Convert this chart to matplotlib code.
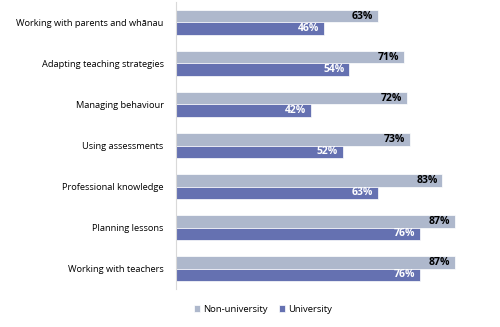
import matplotlib
matplotlib.use("Agg")
import matplotlib.pyplot as plt
import numpy as np

categories = ["Working with parents and whānau", "Adapting teaching strategies",
              "Managing behaviour", "Using assessments", "Professional knowledge",
              "Planning lessons", "Working with teachers"]
non_university = [63, 71, 72, 73, 83, 87, 87]
university = [46, 54, 42, 52, 63, 76, 76]

plt.rcParams['font.family'] = ['Open Sans', 'DejaVu Sans']
fig = plt.figure(figsize=(5, 3.27), dpi=100)
ax = fig.add_axes([0.352, 0.116, 0.642, 0.878])

y = np.arange(len(categories))
h = 0.31
c_non = "#AEB8CC"
c_uni = "#6571B1"
b1 = ax.barh(y - h/2, non_university, height=h, color=c_non, edgecolor="white", linewidth=0.5, label="Non-university")
b2 = ax.barh(y + h/2, university, height=h, color=c_uni, edgecolor="white", linewidth=0.5, label="University")

for yy, v in zip(y, non_university):
    ax.text(v - 1.5, yy - h/2, f"{v}%", ha="right", va="center", fontsize=7.5, fontweight="bold", color="black")
for yy, v in zip(y, university):
    ax.text(v - 1.5, yy + h/2, f"{v}%", ha="right", va="center", fontsize=7.5, fontweight="bold", color="white")

ax.set_xlim(0, 100)
ax.set_ylim(6.5, -0.5)
ax.set_yticks(y)
ax.set_yticklabels(categories, fontsize=6.7)
ax.tick_params(axis="y", length=0, pad=9)
ax.set_xticks([])
for s in ["top", "right", "bottom"]:
    ax.spines[s].set_visible(False)
ax.spines["left"].set_color("#D9D9D9")
ax.spines["left"].set_linewidth(0.8)

leg = fig.legend(handles=[b1, b2], loc="lower left", bbox_to_anchor=(0.37, 0.015), ncol=2,
                 frameon=False, fontsize=6.8, handlelength=0.7, handleheight=0.7,
                 handletextpad=0.3, columnspacing=1.2)

fig.savefig("out.png", dpi=100)
